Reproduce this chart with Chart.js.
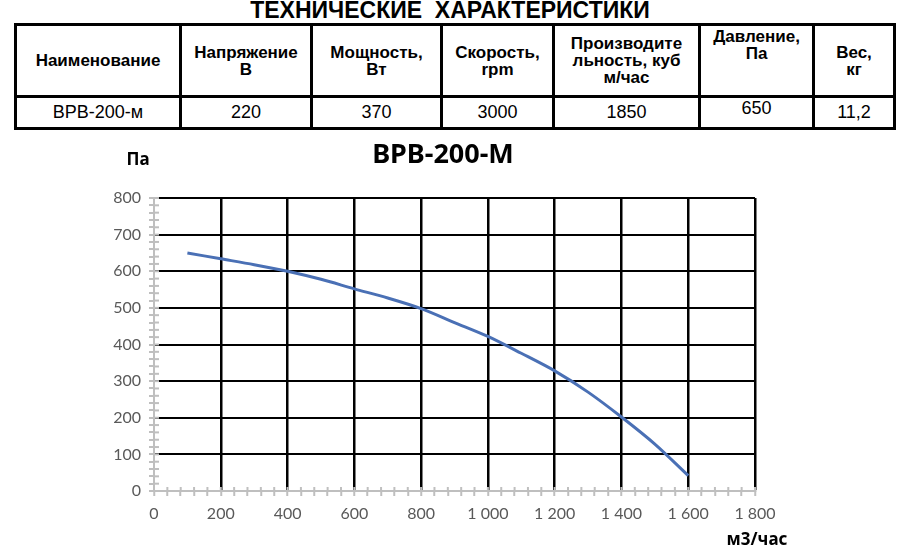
<!DOCTYPE html>
<html>
<head>
<meta charset="utf-8">
<script src="https://cdn.jsdelivr.net/npm/chart.js@4.4.1/dist/chart.umd.min.js"></script>
<style>
body{margin:0;width:910px;height:558px;background:#fff;position:relative;overflow:hidden;font-family:"Liberation Sans",Arial,sans-serif}
#head{position:absolute;left:0;top:-1px;width:900px;text-align:center;font-weight:bold;font-size:23px;line-height:23px;white-space:pre;color:#000}
table{position:absolute;left:14px;top:23px;border-collapse:collapse;table-layout:fixed;width:879px}
td{border:3px solid #000;text-align:center;padding:0;color:#000}
tr.h td{height:67px;font-weight:bold;font-size:17px;line-height:17px}
tr.d td{height:29px;font-size:18px}
#wrap{position:absolute;left:0;top:135px;width:910px;height:423px}
</style>
</head>
<body>
<div id="head">ТЕХНИЧЕСКИЕ  ХАРАКТЕРИСТИКИ</div>
<table id="spec"></table>
<div id="wrap"><canvas id="fan" width="910" height="423"></canvas></div>
<script>
// table contents
const headers = ["Наименование", "Напряжение<br>В", "Мощность,<br>Вт", "Скорость,<br>rpm",
  "Производите<br>льность, куб<br>м/час", "Давление,<br>Па", "Вес,<br>кг"]
const rowValues = ["ВРВ-200-м", "220", "370", "3000", "1850", "650", "11,2"]
const colWidths = [165, 131, 130, 112, 146, 114, 81]

// curve: flow (m3/h) vs pressure (Pa)
const flow = [100, 200, 300, 400, 500, 600, 700, 800, 900, 1000, 1100, 1200, 1300, 1400, 1500, 1600]
const pressure = [650, 634, 618, 600, 578, 552, 527, 498, 460, 422, 376, 328, 270, 202, 128, 42]

const chartTitle = "ВРВ-200-М"
const yUnit = "Па"
const xUnit = "м3/час"

// build table
const spec = document.getElementById("spec")
let html = "<colgroup>" + colWidths.map(w => `<col style="width:${w}px">`).join("") + "</colgroup>"
html += '<tr class="h">' + headers.map((h, i) =>
  `<td${i == 5 ? ' style="vertical-align:top;padding-top:2px"' : ''}>${h}</td>`).join("") + "</tr>"
html += '<tr class="d">' + rowValues.map((v, i) =>
  `<td${i == 5 ? ' style="vertical-align:top;padding-top:0px"' : ''}>${v}</td>`).join("") + "</tr>"
spec.innerHTML = html

const axisGrey = "#bfbfbf"
const tickFont = {family: "Lato, 'Open Sans', sans-serif", size: 16}

// small tick marks that cross the axis line, plus the unit labels and title
const extras = {
  id: "extras",
  afterDatasetsDraw(chart) {
    const c = chart.ctx
    const a = chart.chartArea
    const xs = chart.scales.x, ys = chart.scales.y
    c.save()
    c.strokeStyle = axisGrey
    c.lineWidth = 2
    xs.ticks.forEach(t => {
      const px = xs.getPixelForValue(t.value)
      c.beginPath(); c.moveTo(px, a.bottom - 4); c.lineTo(px, a.bottom); c.stroke()
    })
    ys.ticks.forEach(t => {
      const py = ys.getPixelForValue(t.value)
      c.beginPath(); c.moveTo(a.left, py); c.lineTo(a.left + 5, py); c.stroke()
    })
    c.fillStyle = "#000"
    c.textAlign = "center"
    c.textBaseline = "middle"
    c.font = "bold 27px 'Noto Sans', sans-serif"
    c.fillText(chartTitle, 443, 20)
    c.font = "bold 17px 'Noto Sans', sans-serif"
    c.fillText(yUnit, 138, 25)
    c.font = "bold 17px 'Noto Sans', sans-serif"
    c.fillText(xUnit, 757, 405)
    c.restore()
  }
}

new Chart(document.getElementById("fan"), {
  type: "line",
  plugins: [extras],
  data: {
    datasets: [{
      data: flow.map((f, i) => ({x: f, y: pressure[i]})),
      borderColor: "#4a70b5",
      borderWidth: 3,
      pointRadius: 0,
      tension: 0.3,
      fill: false
    }]
  },
  options: {
    responsive: false,
    devicePixelRatio: 1,
    animation: false,
    layout: {padding: {top: 63, right: 155, left: 0, bottom: 0}},
    plugins: {legend: {display: false}, tooltip: {enabled: false}},
    scales: {
      x: {
        type: "linear",
        min: 0, max: 1800,
        afterFit(s) { s.height = 67 },
        ticks: {
          stepSize: 40,
          autoSkip: false,
          maxRotation: 0,
          color: "#595959",
          font: tickFont,
          padding: 8,
          callback: v => v % 200 === 0 ? v.toLocaleString("ru-RU").replace(/\s/g, " ") : ""
        },
        grid: {
          color: c => (c.tick && c.tick.value % 200 === 0 && c.tick.value > 0) ? "#000" : "rgba(0,0,0,0)",
          lineWidth: 2.5,
          tickColor: axisGrey,
          tickLength: 5,
          tickWidth: 2
        },
        border: {color: axisGrey, width: 2}
      },
      y: {
        min: 0, max: 800,
        afterFit(s) { s.width = 154 },
        ticks: {
          stepSize: 20,
          autoSkip: false,
          color: "#595959",
          font: tickFont,
          padding: 8,
          callback: v => v % 100 === 0 ? v : ""
        },
        grid: {
          color: c => (c.tick && c.tick.value % 100 === 0 && c.tick.value > 0) ? "#000" : "rgba(0,0,0,0)",
          lineWidth: 2,
          tickColor: axisGrey,
          tickLength: 5,
          tickWidth: 2
        },
        border: {color: axisGrey, width: 2}
      }
    }
  }
})
</script>
</body>
</html>
